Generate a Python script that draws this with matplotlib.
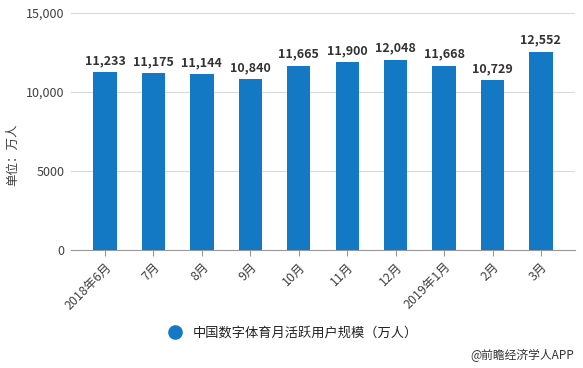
import matplotlib.pyplot as plt
from matplotlib.lines import Line2D

plt.rcParams['font.family'] = ['Noto Sans CJK SC', 'DejaVu Sans']

# monthly active users, 10k people
months = ["2018年6月", "7月", "8月", "9月", "10月", "11月", "12月", "2019年1月", "2月", "3月"]
users = [11233, 11175, 11144, 10840, 11665, 11900, 12048, 11668, 10729, 12552]

bar_color = "#1479c4"

fig = plt.figure(figsize=(5.83, 3.68), dpi=100)
ax = fig.add_axes([0.122, 0.321, 0.864, 0.644])

x = range(len(months))
ax.bar(x, users, width=0.48, color=bar_color, zorder=3)

for i, v in enumerate(users):
    ax.text(i, v + 300, f"{v:,}", ha="center", va="bottom",
            fontsize=9, fontweight="bold", color="#333333")

ax.set_xlim(-0.7, 9.7)
ax.set_ylim(0, 15000)
ax.set_yticks([0, 5000, 10000, 15000])
ax.set_yticklabels(["0", "5000", "10,000", "15,000"])
ax.yaxis.grid(True, color="#d9d9d9", linewidth=0.8, zorder=0)
ax.set_xticks(list(x))
ax.set_xticklabels(months, rotation=45, ha="right", rotation_mode="anchor")
ax.tick_params(axis="y", length=0, labelsize=9, labelcolor="#404040", pad=5)
ax.tick_params(axis="x", length=4, color="#999999", labelsize=9, labelcolor="#404040")

for side in ["top", "right", "left"]:
    ax.spines[side].set_visible(False)
ax.spines["bottom"].set_color("#999999")

fig.text(0.022, 0.58, "单位：万人", rotation=90, ha="center", va="center",
         fontsize=9, color="#404040")

handle = Line2D([], [], marker="o", linestyle="none", markersize=9.5,
                markerfacecolor=bar_color, markeredgecolor=bar_color)
fig.legend([handle], ["中国数字体育月活跃用户规模（万人）"], loc="center",
           bbox_to_anchor=(0.497, 0.095), frameon=False, fontsize=9.5,
           handletextpad=0.3, labelcolor="#222222")

fig.text(0.985, 0.035, "@前瞻经济学人APP", ha="right", va="center",
         fontsize=8.5, color="#333333")

fig.savefig("out.png", dpi=100)
